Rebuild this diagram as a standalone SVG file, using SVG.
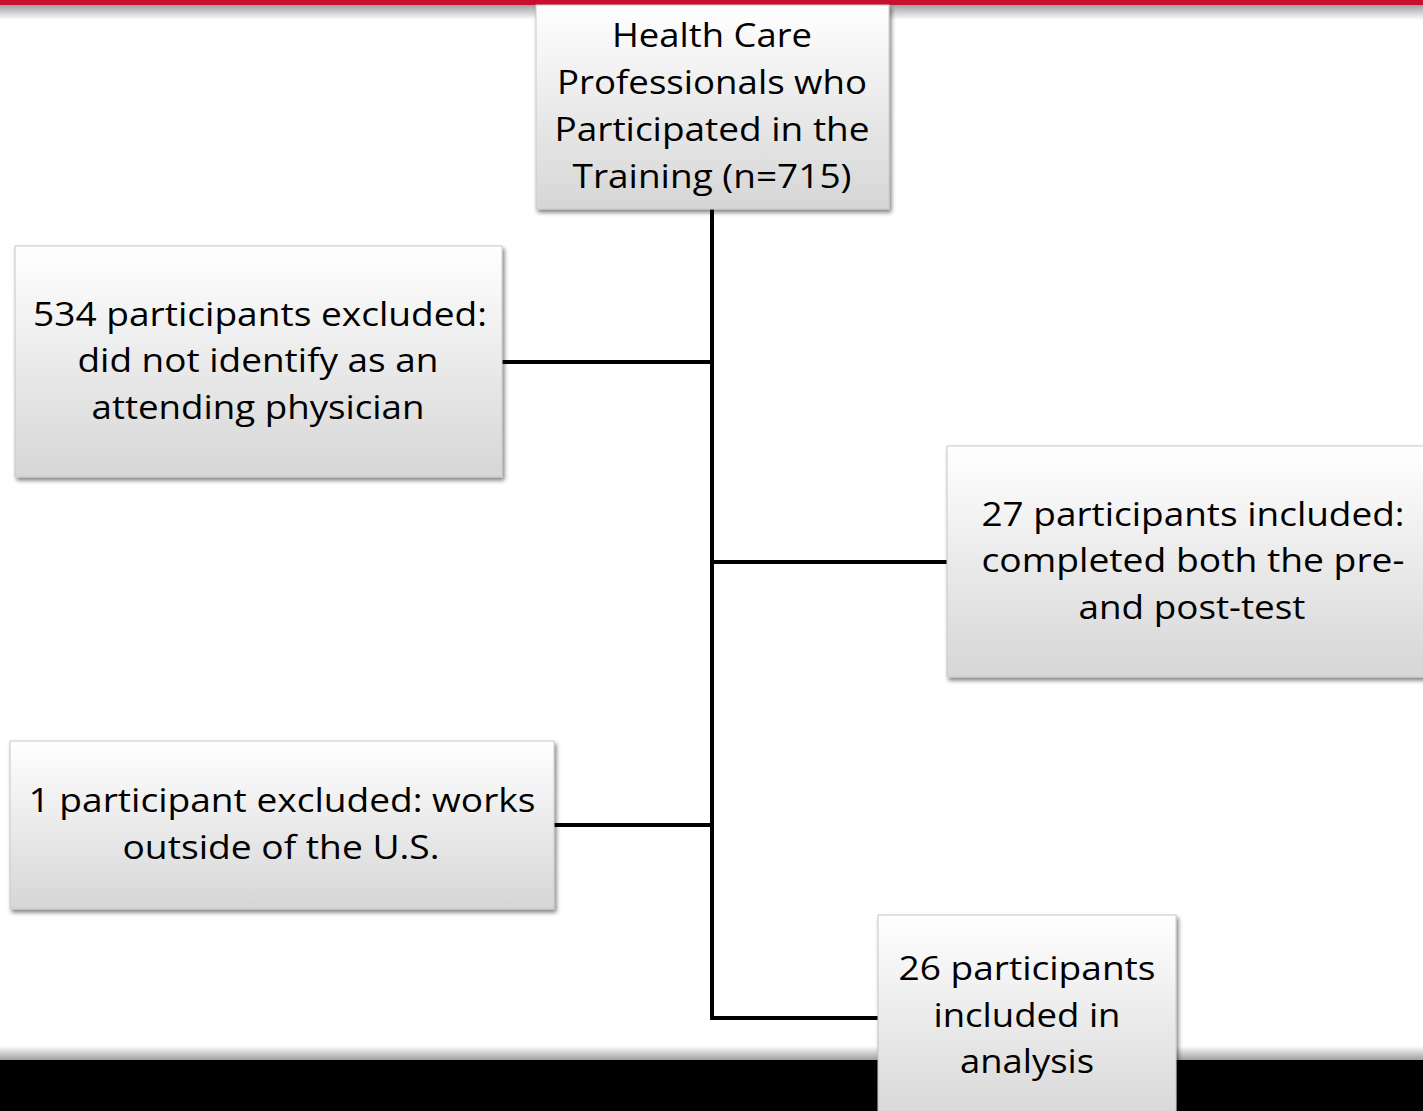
<svg xmlns="http://www.w3.org/2000/svg" width="1423" height="1111" viewBox="0 0 1423 1111">
<defs>
<linearGradient id="boxg" x1="0" y1="0" x2="0" y2="1">
<stop offset="0" stop-color="#ffffff"/>
<stop offset="1" stop-color="#d6d6d6"/>
</linearGradient>
<linearGradient id="topsh" x1="0" y1="0" x2="0" y2="1">
<stop offset="0" stop-color="#9a9a9a"/>
<stop offset="1" stop-color="#ffffff"/>
</linearGradient>
<linearGradient id="botsh" x1="0" y1="0" x2="0" y2="1">
<stop offset="0" stop-color="#ffffff"/>
<stop offset="1" stop-color="#9a9a9a"/>
</linearGradient>
<filter id="sh" x="-5%" y="-5%" width="115%" height="120%">
<feGaussianBlur in="SourceAlpha" stdDeviation="2"/>
<feOffset dx="2" dy="3" result="b"/>
<feComponentTransfer><feFuncA type="linear" slope="0.5"/></feComponentTransfer>
<feMerge><feMergeNode/><feMergeNode in="SourceGraphic"/></feMerge>
</filter>
</defs>
<style>
.box{fill:url(#boxg);stroke:#c8c8c8;stroke-width:1;filter:url(#sh)}
.t{font-family:"Open Sans","Noto Sans","Liberation Sans",sans-serif;font-size:33px;fill:#000;text-anchor:middle}
.c{stroke:#000;stroke-width:4;fill:none}
</style>
<rect x="0" y="0" width="1423" height="1111" fill="#ffffff"/>
<rect x="0" y="4" width="1423" height="16" fill="url(#topsh)"/>
<rect x="0" y="0" width="1423" height="5" fill="#c8102e"/>
<rect x="0" y="1046" width="1423" height="15" fill="url(#botsh)"/>
<rect x="0" y="1060" width="1423" height="51" fill="#000000"/>
<g id="connectors">
<line class="c" x1="712" y1="209" x2="712" y2="1020"/>
<line class="c" x1="502" y1="362" x2="712" y2="362"/>
<line class="c" x1="712" y1="562" x2="947" y2="562"/>
<line class="c" x1="554" y1="825" x2="712" y2="825"/>
<line class="c" x1="710" y1="1018" x2="878" y2="1018"/>
</g>
<g id="node-total">
<rect class="box" x="536" y="5" width="353" height="204"/>
<text class="t" x="712" y="47" textLength="200" lengthAdjust="spacingAndGlyphs">Health Care</text>
<text class="t" x="712" y="94" textLength="310" lengthAdjust="spacingAndGlyphs">Professionals who</text>
<text class="t" x="712" y="141" textLength="315" lengthAdjust="spacingAndGlyphs">Participated in the</text>
<text class="t" x="712" y="188" textLength="279" lengthAdjust="spacingAndGlyphs">Training (n=715)</text>
</g>
<g id="node-excluded-534">
<rect class="box" x="15" y="246" width="487" height="231"/>
<text class="t" x="260" y="326" textLength="454" lengthAdjust="spacingAndGlyphs">534 participants excluded:</text>
<text class="t" x="258" y="372" textLength="361" lengthAdjust="spacingAndGlyphs">did not identify as an</text>
<text class="t" x="258" y="419" textLength="333" lengthAdjust="spacingAndGlyphs">attending physician</text>
</g>
<g id="node-included-27">
<rect class="box" x="947" y="446" width="490" height="231"/>
<text class="t" x="1193" y="526" textLength="423" lengthAdjust="spacingAndGlyphs">27 participants included:</text>
<text class="t" x="1193" y="572" textLength="423" lengthAdjust="spacingAndGlyphs">completed both the pre-</text>
<text class="t" x="1192" y="619" textLength="227" lengthAdjust="spacingAndGlyphs">and post-test</text>
</g>
<g id="node-excluded-1">
<rect class="box" x="10" y="741" width="544" height="168"/>
<text class="t" x="282" y="812" textLength="507" lengthAdjust="spacingAndGlyphs">1 participant excluded: works</text>
<text class="t" x="281" y="859" textLength="317" lengthAdjust="spacingAndGlyphs">outside of the U.S.</text>
</g>
<g id="node-analysis-26">
<rect class="box" x="878" y="915" width="298" height="210"/>
<text class="t" x="1027" y="980" textLength="257" lengthAdjust="spacingAndGlyphs">26 participants</text>
<text class="t" x="1027" y="1027" textLength="187" lengthAdjust="spacingAndGlyphs">included in</text>
<text class="t" x="1027" y="1073" textLength="134" lengthAdjust="spacingAndGlyphs">analysis</text>
</g>
</svg>
